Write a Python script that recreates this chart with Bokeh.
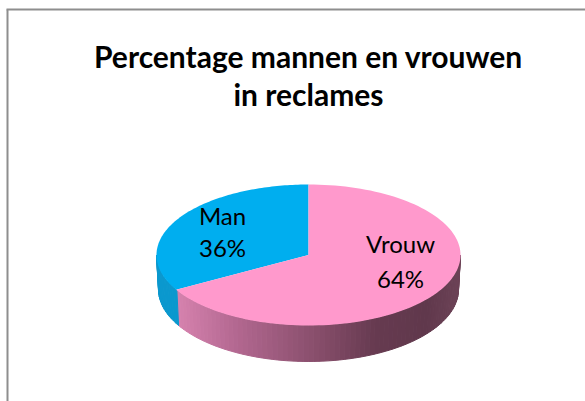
import math
from bokeh.plotting import figure
from bokeh.embed import file_html
from bokeh.resources import INLINE
from bokeh.core.properties import value

labels = ["Man", "Vrouw"]
shares = [36, 64]
title_lines = ["Percentage mannen en vrouwen", "in reclames"]
top_colors = ["#00AEEF", "#FF99CC"]
man_side = "#0A98CE"
pink_stops = [(176, (214, 130, 174)), (240, (176, 102, 142)), (310, (139, 80, 110)),
              (375, (102, 58, 80)), (425, (96, 56, 76)), (460, (108, 66, 86))]

W, H = 585, 401
CX, CY, RX, RY = 308, 254.5, 152, 70.5
BX, BY, BRX, BRY = 308, 289, 150, 72
WARP = 1.464

p = figure(width=W, height=H, x_range=(0, W), y_range=(H, 0),
           output_backend="svg", toolbar_location=None, outline_line_color=None,
           min_border=0, margin=0, background_fill_color="white",
           border_fill_color="white")
p.axis.visible = False
p.grid.visible = False

def warp(a):
    return math.atan2(math.sin(a) * WARP, math.cos(a)) % (2 * math.pi)

def top_pt(t):
    return CX + RX * math.sin(t), CY - RY * math.cos(t)

def bot_pt(t):
    return BX + BRX * math.sin(t), BY - BRY * math.cos(t)

def pink(x):
    for (x0, c0), (x1, c1) in zip(pink_stops, pink_stops[1:]):
        if x <= x1:
            f = max(0, (x - x0) / (x1 - x0))
            return tuple(round(a + (b - a) * f) for a, b in zip(c0, c1))
    return pink_stops[-1][1]

total = sum(shares)
split = warp(2 * math.pi * shares[1] / total)

n = 90
xs, ys, cols = [], [], []
right, left = math.pi / 2, 3 * math.pi / 2
for i in range(n):
    a = right + (left - right) * i / n
    b = right + (left - right) * (i + 1) / n
    pa, pb, qa, qb = top_pt(a), top_pt(b), bot_pt(a), bot_pt(b)
    xs.append([pa[0], pb[0], qb[0], qa[0]])
    ys.append([pa[1], pb[1], qb[1], qa[1]])
    mid = (a + b) / 2
    if mid < split:
        r, g, bl = pink((pa[0] + pb[0]) / 2)
        cols.append(f"#{r:02x}{g:02x}{bl:02x}")
    else:
        cols.append(man_side)
p.patches(xs, ys, fill_color=cols, line_color=cols, line_width=1)

def wedge(t0, t1):
    steps = 120
    pts = [top_pt(t0 + (t1 - t0) * i / steps) for i in range(steps + 1)]
    return [CX] + [q[0] for q in pts], [CY] + [q[1] for q in pts]

mx, my = wedge(split, 2 * math.pi)
vx, vy = wedge(0, split)
p.patches([mx, vx], [my, vy], fill_color=top_colors, line_color=None)

p.line([7, 7], [H, 9], line_color="#8E8E8E", line_width=2)
p.line([6, W], [9, 9], line_color="#8E8E8E", line_width=2)

p.text([308], [55], text=[title_lines[0]], text_font=value("Lato"), text_font_style="bold",
       text_font_size="30px", text_align="center", text_baseline="middle", text_color="black")
p.text([308], [93], text=[title_lines[1]], text_font=value("Lato"), text_font_style="bold",
       text_font_size="30px", text_align="center", text_baseline="middle", text_color="black")
anchors = [(222, 215, 247), (400, 243, 278)]
for lab, sh, (ax, y1, y2) in zip(labels, shares, anchors):
    p.text([ax, ax], [y1, y2], text=[lab, f"{sh}%"], text_font=value("Lato"),
           text_font_size="24px", text_align="center", text_baseline="middle", text_color="black")

open("out.html", "w").write(file_html(p, INLINE))
